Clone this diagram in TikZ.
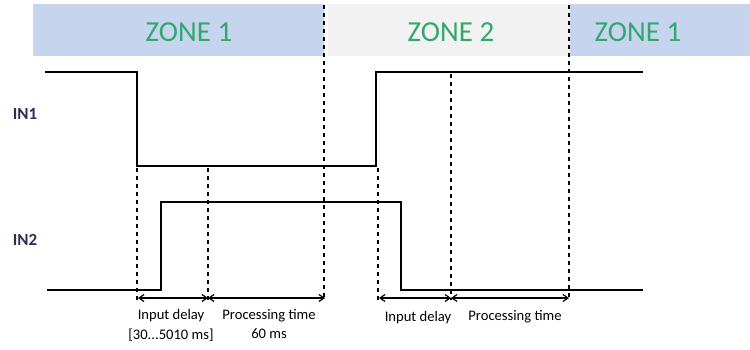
\documentclass[tikz,border=0pt]{standalone}
\usepackage{fontspec}
\setmainfont{Carlito}
\definecolor{zoneBlue}{RGB}{198,212,237}
\definecolor{zoneGrey}{RGB}{242,242,242}
\definecolor{zoneGreen}{RGB}{50,168,112}
\definecolor{inNavy}{RGB}{45,45,85}
\usetikzlibrary{arrows.meta,positioning}

\begin{document}
\begin{tikzpicture}[
  x=0.5pt, y=-0.5pt,
  zone/.style={minimum height=26pt, inner sep=0pt, outer sep=0pt},
  zonetext/.style={text=zoneGreen, font=\fontsize{14.5}{16}\selectfont, inner sep=0pt},
  inlabel/.style={text=inNavy, font=\bfseries\fontsize{8.5}{10}\selectfont, inner sep=0pt},
  lbl/.style={font=\fontsize{7.3}{9}\selectfont, inner sep=0pt},
  sig/.style={line width=1pt, line join=miter},
  guide/.style={line width=1.2pt, dash pattern=on 2pt off 2pt},
  span/.style={{Straight Barb[length=2.5pt,width=3.5pt]}-{Straight Barb[length=2.5pt,width=3.5pt]}, line width=0.6pt}
]
  \useasboundingbox (0,0) rectangle (750,349);

  % zone bars
  \node[zone, fill=zoneBlue, minimum width=145.5pt] (zoneA) at (178.5,30) {};
  \node[zone, fill=zoneGrey, minimum width=120pt]   (zoneB) at (448,30)   {};
  \node[zone, fill=zoneBlue, minimum width=90pt]    (zoneC) at (660,30)   {};
  \node[zonetext] (txtA) at (189,32) {ZONE 1};
  \node[zonetext] (txtB) at (451,32) {ZONE 2};
  \node[zonetext] (txtC) at (638,32) {ZONE 1};

  \node[inlabel] (in1) at (25,114) {IN1};
  \node[inlabel] (in2) at (25,240) {IN2};

  % signals
  \draw[sig] (45,72) -- (137,72) -- (137,166) -- (376,166) -- (376,72) -- (643,72);
  \draw[sig] (47,290) -- (161,290) -- (161,202) -- (401,202) -- (401,290) -- (643,290);

  % time marks
  \draw[guide] (137,168) -- (137,300);
  \draw[guide] (208,168) -- (208,300);
  \draw[guide] (324,5)   -- (324,300);
  \draw[guide] (378,168) -- (378,300);
  \draw[guide] (451,74)  -- (451,300);
  \draw[guide] (569,5)   -- (569,300);

  \coordinate (d1) at (138,298);
  \coordinate (d2) at (208,298);
  \coordinate (d3) at (325,298);
  \coordinate (d4) at (379,298);
  \coordinate (d5) at (451,298);
  \coordinate (d6) at (569,298);
  \draw[span] (d1) -- (d2);
  \draw[span] (d2) -- (d3);
  \draw[span] (d4) -- (d5);
  \draw[span] (d5) -- (d6);

  \node[lbl] (delayA) at (171,316) {Input delay};
  \node[lbl, below=3pt of delayA] (rangeA) {[30...5010 ms]};
  \node[lbl] (procA)  at (269,316) {Processing time};
  \node[lbl, below=3pt of procA] (timeA) {60 ms};
  \node[lbl] (delayB) at (418,318) {Input delay};
  \node[lbl] (procB)  at (515,317) {Processing time};
\end{tikzpicture}
\end{document}
